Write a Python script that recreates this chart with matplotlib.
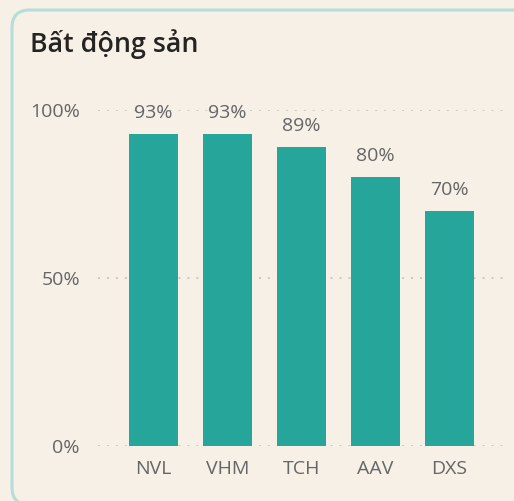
import matplotlib.pyplot as plt
from matplotlib.patches import FancyBboxPatch

# datos del grafico
categorias = ["NVL", "VHM", "TCH", "AAV", "DXS"]
valores = [0.93, 0.93, 0.89, 0.80, 0.70]
etiquetas = ["93%", "93%", "89%", "80%", "70%"]
ticks_y = [0, 0.5, 1.0]
ticks_y_labels = ["0%", "50%", "100%"]
titulo = "Bất động sản"

FONDO = "#F6F0E7"
BARRA = "#26A69A"
GRIS = "#666666"

plt.rcParams['font.family'] = ['Open Sans', 'DejaVu Sans']

W, H = 514, 501
fig = plt.figure(figsize=(W / 100, H / 100), dpi=100)
fig.patch.set_facecolor(FONDO)

# tarjeta con borde redondeado
tarjeta = FancyBboxPatch((12 / W, (H - 505) / H), (530 - 12) / W, (505 - 10) / H,
                         boxstyle="round,pad=0,rounding_size=0.035",
                         transform=fig.transFigure, facecolor=FONDO,
                         edgecolor="#B4DEDA", linewidth=2.2, zorder=-1)
fig.patches.append(tarjeta)

fig.text(30 / W, (H - 52) / H, titulo, fontsize=19.3, fontweight="semibold",
         color="#252423", va="baseline", ha="left")

ax = fig.add_axes([98 / W, 55 / H, (505 - 98) / W, (446 - 110) / H])
ax.set_facecolor("none")
ax.set_zorder(2)

x = range(len(categorias))
ax.bar(x, valores, width=0.66, color=BARRA, zorder=2)

for i, v in enumerate(valores):
    ax.text(i, v + 0.035, etiquetas[i], ha="center", va="bottom",
            fontsize=14, color=GRIS)

for t in ticks_y:
    ax.axhline(t, color="#C8C8C8", linestyle=(0, (1, 3.6)), linewidth=1.4, zorder=1)

ax.set_xlim(-0.75, 4.75)
ax.set_ylim(0, 1)
ax.set_yticks(ticks_y)
ax.set_yticklabels(ticks_y_labels, fontsize=14, color=GRIS)
ax.set_xticks(list(x))
ax.set_xticklabels(categorias, fontsize=14, color=GRIS)
ax.tick_params(length=0)
ax.tick_params(axis="x", pad=10)
ax.tick_params(axis="y", pad=13)
for s in ax.spines.values():
    s.set_visible(False)

fig.savefig("out.png", dpi=100, facecolor=FONDO)
